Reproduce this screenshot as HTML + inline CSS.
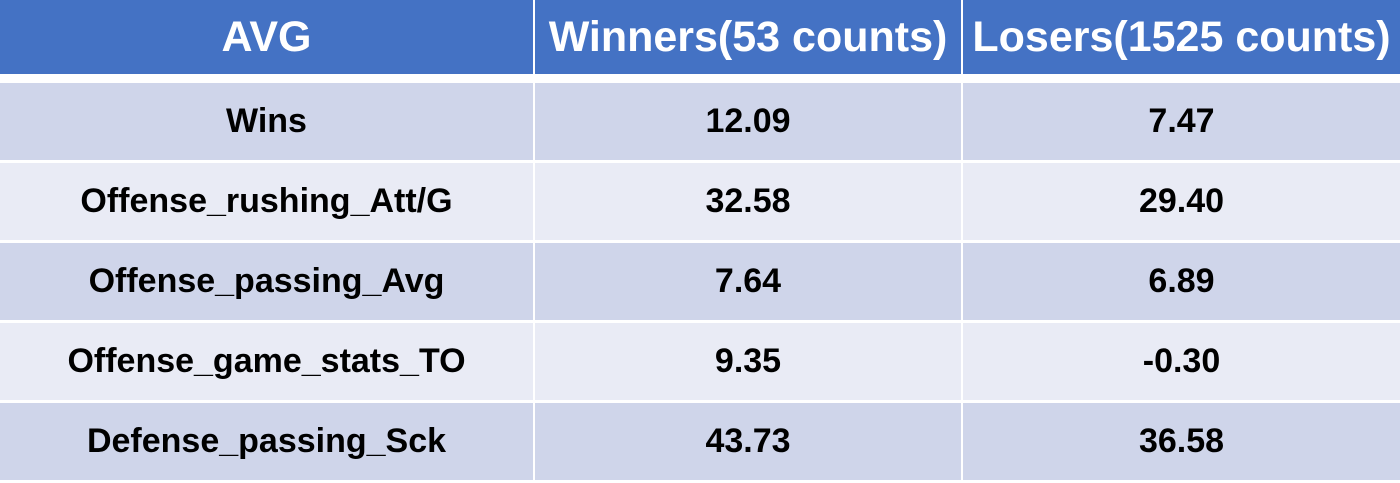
<!DOCTYPE html>
<html><head><meta charset="utf-8"><style>
body{margin:0;width:1400px;height:483px;background:#fff;position:relative;overflow:hidden;font-family:"Liberation Sans",sans-serif;font-weight:bold}
.c{position:absolute;display:flex;align-items:center;justify-content:center;box-sizing:border-box;white-space:nowrap}
.h{background:#4472C4;color:#fff;font-size:43px;top:0;height:74px}
.r{color:#000;font-size:34px}
.o{background:#CFD5EA}.e{background:#E9EBF5}
</style></head><body>
<div class="c h" style="left:0;width:533px">AVG</div>
<div class="c h" style="left:535px;width:426px">Winners(53 counts)</div>
<div class="c h" style="left:963px;width:437px">Losers(1525 counts)</div>
<script>
const labels=["Wins","Offense_rushing_Att/G","Offense_passing_Avg","Offense_game_stats_TO","Defense_passing_Sck"];
const winners=["12.09","32.58","7.64","9.35","43.73"];
const losers=["7.47","29.40","6.89","-0.30","36.58"];
const cols=[[0,533],[535,426],[963,437]];
labels.forEach((l,i)=>{
  const top=83+i*80;
  [l,winners[i],losers[i]].forEach((t,j)=>{
    const d=document.createElement('div');
    d.className='c r '+(i%2?'e':'o');
    d.style.left=cols[j][0]+'px';d.style.width=cols[j][1]+'px';
    d.style.top=top+'px';d.style.height='77px';
    d.textContent=t;
    
    
    document.body.appendChild(d);
  });
});
</script>
</body></html>
